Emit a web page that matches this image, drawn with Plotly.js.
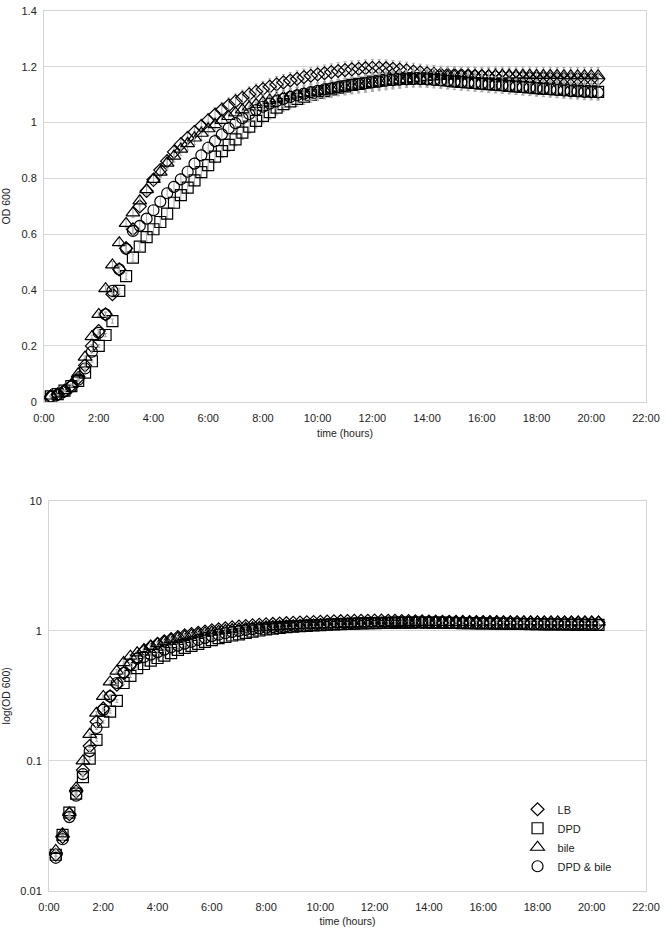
<!DOCTYPE html>
<html>
<head>
<meta charset="utf-8">
<script src="https://cdn.plot.ly/plotly-3.0.1.min.js"></script>
<style>html,body{margin:0;padding:0;background:#fff}#chart{width:666px;height:935px}</style>
</head>
<body>
<div id="chart"></div>
<script>
// time points in hours (every 15 min from 0:15 to 20:15)
const timeHours = [
  0.25,0.5,0.75,
  1,1.25,1.5,1.75, 2,2.25,2.5,2.75, 3,3.25,3.5,3.75, 4,4.25,4.5,4.75,
  5,5.25,5.5,5.75, 6,6.25,6.5,6.75, 7,7.25,7.5,7.75, 8,8.25,8.5,8.75,
  9,9.25,9.5,9.75, 10,10.25,10.5,10.75, 11,11.25,11.5,11.75, 12,12.25,12.5,12.75,
  13,13.25,13.5,13.75, 14,14.25,14.5,14.75, 15,15.25,15.5,15.75, 16,16.25,16.5,16.75,
  17,17.25,17.5,17.75, 18,18.25,18.5,18.75, 19,19.25,19.5,19.75, 20,20.25
];
const seriesNames = ["LB", "DPD", "bile", "DPD & bile"];
const odLB = [
  0.019,0.026,0.039,
  0.058,0.085,0.130,0.200, 0.253,0.313,0.385,0.474, 0.550,0.618,0.700,0.755, 0.795,0.830,0.862,0.895,
  0.922,0.945,0.966,0.988, 1.008,1.028,1.046,1.062, 1.076,1.089,1.101,1.111, 1.120,1.129,1.137,1.144,
  1.151,1.157,1.163,1.168, 1.173,1.177,1.181,1.185, 1.188,1.191,1.193,1.195, 1.196,1.196,1.195,1.193,
  1.190,1.187,1.183,1.180, 1.177,1.175,1.173,1.172, 1.171,1.170,1.169,1.168, 1.167,1.166,1.165,1.164,
  1.163,1.162,1.161,1.160, 1.160,1.159,1.158,1.158, 1.157,1.157,1.156,1.156, 1.155,1.155
];
const odDPD = [
  0.019,0.027,0.040,
  0.056,0.075,0.104,0.145, 0.200,0.239,0.289,0.397, 0.450,0.516,0.556,0.590, 0.618,0.644,0.674,0.713,
  0.740,0.767,0.793,0.823, 0.848,0.878,0.898,0.920, 0.940,0.964,0.986,1.006, 1.024,1.038,1.054,1.066,
  1.076,1.085,1.093,1.100, 1.107,1.113,1.119,1.125, 1.130,1.135,1.139,1.143, 1.147,1.150,1.153,1.155,
  1.157,1.158,1.159,1.159, 1.158,1.156,1.154,1.151, 1.148,1.146,1.144,1.142, 1.140,1.138,1.136,1.134,
  1.132,1.130,1.128,1.126, 1.124,1.122,1.121,1.119, 1.118,1.116,1.115,1.113, 1.112,1.110
];
const odBile = [
  0.0205,0.0275,0.040,
  0.062,0.100,0.160,0.233, 0.313,0.405,0.490,0.570, 0.639,0.677,0.720,0.760, 0.797,0.823,0.855,0.880,
  0.905,0.925,0.945,0.962, 0.978,0.993,1.008,1.022, 1.035,1.046,1.056,1.065, 1.073,1.080,1.086,1.091,
  1.096,1.100,1.104,1.108, 1.112,1.116,1.120,1.124, 1.127,1.131,1.134,1.137, 1.140,1.143,1.146,1.149,
  1.152,1.155,1.158,1.160, 1.162,1.164,1.166,1.167, 1.168,1.168,1.169,1.169, 1.169,1.169,1.170,1.170,
  1.170,1.170,1.170,1.170, 1.169,1.169,1.169,1.169, 1.168,1.168,1.168,1.168, 1.168,1.168
];
const odDPDBile = [
  0.018,0.025,0.037,
  0.054,0.079,0.119,0.179, 0.247,0.313,0.397,0.474, 0.548,0.612,0.630,0.656, 0.686,0.717,0.747,0.770,
  0.797,0.824,0.853,0.883, 0.910,0.934,0.958,0.980, 0.998,1.016,1.031,1.045, 1.057,1.068,1.077,1.085,
  1.092,1.098,1.104,1.109, 1.114,1.119,1.123,1.127, 1.131,1.135,1.138,1.141, 1.144,1.147,1.150,1.152,
  1.154,1.155,1.156,1.156, 1.155,1.153,1.151,1.149, 1.147,1.145,1.143,1.141, 1.139,1.137,1.135,1.133,
  1.131,1.129,1.127,1.125, 1.123,1.121,1.119,1.117, 1.115,1.113,1.112,1.110, 1.109,1.108
];
const xTickVals = [0,2,4,6,8,10,12,14,16,18,20,22];
const xTickText = ["0:00","2:00","4:00","6:00","8:00","10:00","12:00","14:00","16:00","18:00","20:00","22:00"];
const logTickVals = [0.01,0.1,1,10];
const logTickText = ["0.01","0.1","1","10"];

const seriesValues = [odLB, odDPD, odBile, odDPDBile];
const symbols = ["diamond-open","square-open","triangle-up-open","circle-open"];
const sizes = [10,11,12,11];

const traces = [];
[["x","y",false],["x2","y2",true]].forEach(([xa,ya,leg]) => {
  seriesValues.forEach((vals, i) => {
    traces.push({
      type: "scatter", mode: "markers",
      x: timeHours, y: vals, xaxis: xa, yaxis: ya,
      name: seriesNames[i], showlegend: leg,
      marker: {symbol: symbols[i], size: sizes[i], color: "#000", line: {width: 1.2, color: "#000"}},
      error_y: {type: "percent", value: 2.5, color: "#a8a8a8", thickness: 1, width: 1.5}
    });
  });
});

const fontFam = "Liberation Sans, Arial, sans-serif";
const axisCommon = {
  showline: true, mirror: true, linecolor: "#d4d4d4", linewidth: 1,
  zeroline: false, ticks: "", tickfont: {family: fontFam, size: 11, color: "#222"}
};
const layout = {
  width: 666, height: 935,
  margin: {l: 44, r: 20, t: 11, b: 44},
  paper_bgcolor: "#fff", plot_bgcolor: "#fff",
  font: {family: fontFam, color: "#222"},
  xaxis: Object.assign({}, axisCommon, {
    domain: [0, 1], range: [0, 22], tickvals: xTickVals, ticktext: xTickText,
    showgrid: false, anchor: "y", ticklabelstandoff: 6,
    title: {text: "time (hours)", font: {size: 10.5}, standoff: 6}
  }),
  yaxis: Object.assign({}, axisCommon, {
    domain: [0.556, 1], range: [0, 1.4], dtick: 0.2, tick0: 0,
    showgrid: true, gridcolor: "#d9d9d9", anchor: "x", ticklabelstandoff: 4,
    title: {text: "OD 600", font: {size: 10.5}, standoff: 8}
  }),
  xaxis2: Object.assign({}, axisCommon, {
    domain: [0.0083, 1], range: [0, 22], tickvals: xTickVals, ticktext: xTickText,
    showgrid: false, anchor: "y2", ticklabelstandoff: 6,
    title: {text: "time (hours)", font: {size: 10.5}, standoff: 5}
  }),
  yaxis2: Object.assign({}, axisCommon, {
    domain: [0, 0.4435], type: "log", range: [-2, 1],
    tickvals: logTickVals, ticktext: logTickText,
    showgrid: true, gridcolor: "#d9d9d9", anchor: "x2", ticklabelstandoff: 4,
    title: {text: "log(OD 600)", font: {size: 10.5}, standoff: 8}
  }),
  showlegend: true,
  legend: {
    x: 0.7866, y: 0.1094, xanchor: "left", yanchor: "top",
    bgcolor: "rgba(0,0,0,0)", borderwidth: 0,
    font: {family: fontFam, size: 11, color: "#222"},
    itemwidth: 30, tracegroupgap: 0
  }
};
Plotly.newPlot("chart", traces, layout, {displayModeBar: false, staticPlot: true});
</script>
</body>
</html>
